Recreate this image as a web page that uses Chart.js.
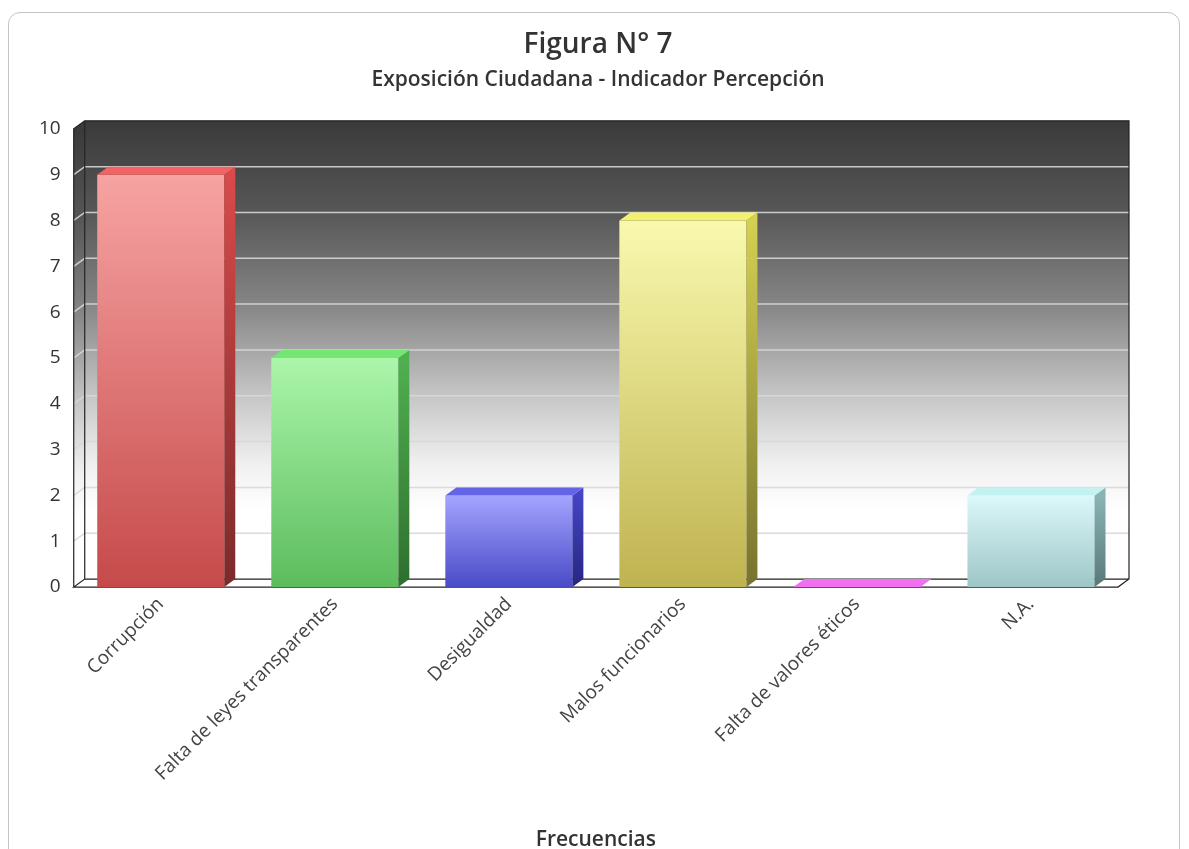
<!DOCTYPE html>
<html><head><meta charset="utf-8">
<script src="https://cdn.jsdelivr.net/npm/chart.js@4/dist/chart.umd.min.js"></script>
<style>
html,body{margin:0;padding:0;background:#fff;overflow:hidden;}
#card{position:absolute;left:8px;top:12px;width:1172px;height:900px;border:1px solid #c4c4c4;border-radius:12px;box-sizing:border-box;}
canvas{position:absolute;left:0;top:0;}
</style></head><body>
<div id="card"></div>
<canvas id="c" width="1189" height="849"></canvas>
<script>
const categories = ['Corrupción','Falta de leyes transparentes','Desigualdad','Malos funcionarios','Falta de valores éticos','N.A.'];
const frecuencias = [9, 5, 2, 8, 0, 2];
const yMin = 0, yMax = 10, yStep = 1;

const frontTop    = ['#f7a3a3','#abf6ab','#a4a4ff','#f9f9ae','#f48cf4','#dcf8fa'];
const frontBottom = ['#c64a4a','#5cbc5c','#4a4ac8','#bfb350','#c040c0','#9ec6c6'];
const sideTop     = ['#d94a4a','#50b050','#4444c4','#d4d052','#c040c0','#8ab4b4'];
const sideBottom  = ['#7a2a2a','#2e6e2e','#262680','#77722e','#802080','#587878'];
const topColors   = ['#f26464','#74e674','#6464e6','#f2f270','#f070f0','#c2f2f2'];

const DX = 11, DY = -8;

function wallGradient(ctx, t, b){
  const g = ctx.createLinearGradient(0, t, 0, b);
  g.addColorStop(0, '#3a3a3a');
  g.addColorStop(0.2, '#575757');
  g.addColorStop(0.4, '#858585');
  g.addColorStop(0.6, '#c6c6c6');
  g.addColorStop(0.75, '#f0f0f0');
  g.addColorStop(0.85, '#ffffff');
  g.addColorStop(1, '#ffffff');
  return g;
}

const threeD = {
  id: 'threeD',
  beforeDatasetsDraw(chart){
    const {ctx, chartArea: a, scales: {y}} = chart;
    const L = a.left + DX, R = a.right + DX, T = a.top + DY, B = a.bottom + DY;
    ctx.save();
    ctx.fillStyle = wallGradient(ctx, T, B);
    ctx.fillRect(L, T, R - L, B - T);
    ctx.fillStyle = wallGradient(ctx, a.top, a.bottom);
    ctx.beginPath();
    ctx.moveTo(a.left, a.top); ctx.lineTo(L, T); ctx.lineTo(L, B); ctx.lineTo(a.left, a.bottom);
    ctx.closePath(); ctx.fill();
    ctx.fillStyle = '#ffffff';
    ctx.beginPath();
    ctx.moveTo(a.left, a.bottom); ctx.lineTo(L, B); ctx.lineTo(R, B); ctx.lineTo(a.right, a.bottom);
    ctx.closePath(); ctx.fill();
    ctx.strokeStyle = 'rgba(215,215,215,0.9)';
    ctx.lineWidth = 1.5;
    y.ticks.forEach(t => {
      if (t.value === yMin || t.value === yMax) return;
      const py = y.getPixelForValue(t.value);
      ctx.beginPath();
      ctx.moveTo(a.left, py); ctx.lineTo(L, py + DY); ctx.lineTo(R, py + DY);
      ctx.stroke();
    });
    ctx.strokeStyle = '#222';
    ctx.lineWidth = 1.2;
    ctx.beginPath();
    ctx.moveTo(a.left, a.bottom); ctx.lineTo(a.left, a.top); ctx.lineTo(L, T); ctx.lineTo(R, T); ctx.lineTo(R, B);
    ctx.lineTo(a.right, a.bottom); ctx.lineTo(a.left, a.bottom); ctx.lineTo(L, B); ctx.lineTo(R, B);
    ctx.moveTo(L, T); ctx.lineTo(L, B);
    ctx.stroke();
    ctx.restore();
  },
  afterDatasetsDraw(chart){
    const {ctx} = chart;
    const meta = chart.getDatasetMeta(0);
    ctx.save();
    meta.data.forEach((bar, i) => {
      const {x, y, base, width} = bar.getProps(['x','y','base','width'], true);
      const l = x - width / 2, r = x + width / 2;
      const sg = ctx.createLinearGradient(0, y, 0, base);
      sg.addColorStop(0, sideTop[i]); sg.addColorStop(1, sideBottom[i]);
      ctx.fillStyle = sg;
      ctx.beginPath();
      ctx.moveTo(r, y); ctx.lineTo(r + DX, y + DY); ctx.lineTo(r + DX, base + DY); ctx.lineTo(r, base);
      ctx.closePath(); ctx.fill();
      ctx.fillStyle = topColors[i];
      ctx.beginPath();
      ctx.moveTo(l, y); ctx.lineTo(l + DX, y + DY); ctx.lineTo(r + DX, y + DY); ctx.lineTo(r, y);
      ctx.closePath(); ctx.fill();
    });
    ctx.restore();
  }
};

const FONT = "'Open Sans', 'Noto Sans', sans-serif";

new Chart(document.getElementById('c'), {
  type: 'bar',
  data: {
    labels: categories,
    datasets: [{
      label: 'Frecuencias',
      data: frecuencias,
      yAxisID: 'y',
      categoryPercentage: 1,
      barPercentage: 0.73,
      borderWidth: 0,
      backgroundColor: (c) => {
        const chart = c.chart, a = chart.chartArea;
        const i = c.dataIndex;
        if (!a || i === undefined) return frontTop[i || 0];
        const yS = chart.scales.y;
        const top = yS.getPixelForValue(frecuencias[i]);
        const bot = yS.getPixelForValue(0);
        if (bot - top < 1) return frontBottom[i];
        const g = chart.ctx.createLinearGradient(0, top, 0, bot);
        g.addColorStop(0, frontTop[i]); g.addColorStop(1, frontBottom[i]);
        return g;
      }
    }]
  },
  options: {
    responsive: false,
    animation: false,
    layout: { padding: { left: 26, right: 19, bottom: 0 } },
    plugins: {
      legend: { display: false },
      tooltip: { enabled: false },
      title: {
        display: true, text: 'Figura N° 7', color: '#333',
        font: { family: FONT, size: 28, weight: '600' },
        padding: { top: 28, bottom: 0 }
      },
      subtitle: {
        display: true, text: 'Exposición Ciudadana - Indicador Percepción', color: '#333',
        font: { family: FONT, size: 21, weight: '600' },
        padding: { top: 6, bottom: 36 }
      }
    },
    scales: {
      x: {
        grid: { display: false, drawTicks: false }, border: { display: false },
        ticks: { color: '#444', font: { family: FONT, size: 19 }, minRotation: 45, maxRotation: 45, autoSkip: false, padding: 6 },
        title: { display: true, text: 'Frecuencias', color: '#333', font: { family: FONT, size: 21, weight: '600', lineHeight: 0.85 }, padding: { top: 40, bottom: 0 } }
      },
      y: {
        min: yMin, max: yMax,
        grid: { display: false, drawTicks: false }, border: { display: false },
        ticks: { stepSize: yStep, color: '#333', font: { family: FONT, size: 19 }, padding: 13 }
      },
      yRightSpace: {
        position: 'right',
        grid: { display: false, drawTicks: false }, border: { display: false },
        ticks: { display: false },
        afterFit: (s) => { s.width = 52; }
      }
    }
  },
  plugins: [threeD]
});
</script>
</body></html>
